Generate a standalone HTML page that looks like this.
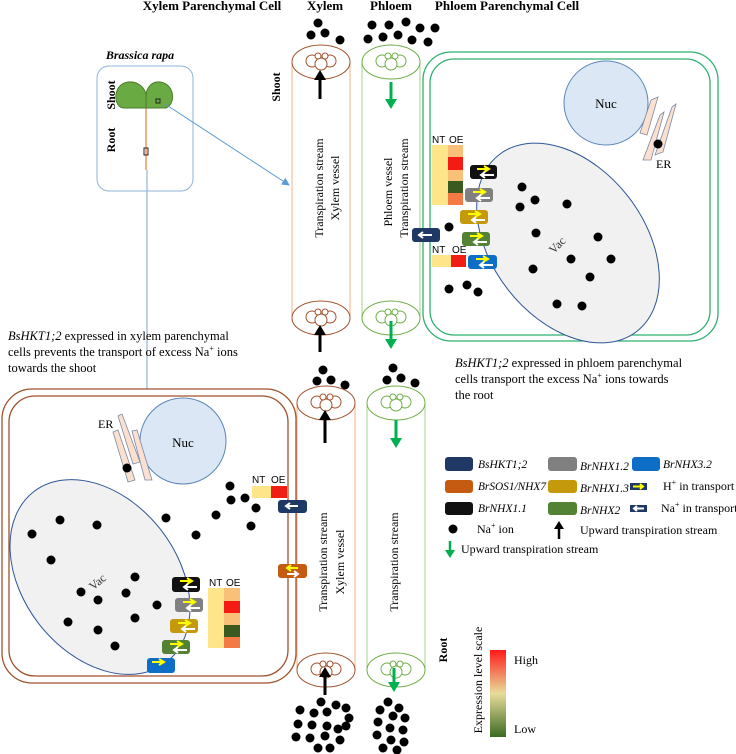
<!DOCTYPE html>
<html><head><meta charset="utf-8"><style>
html,body{margin:0;padding:0;background:#fff;}
svg{display:block;font-family:"Liberation Serif",serif;}
.s{font-family:"Liberation Sans",sans-serif;}
</style></head><body>
<svg width="736" height="754" viewBox="0 0 736 754" xmlns="http://www.w3.org/2000/svg">
<defs>
<marker id="bh" markerWidth="8" markerHeight="8" refX="7" refY="4" orient="auto" markerUnits="userSpaceOnUse"><path d="M0,0 L8,4 L0,8 z" fill="#5b9bd5"/></marker>
<linearGradient id="gr" x1="0" y1="0" x2="0" y2="1"><stop offset="0" stop-color="#ff1a1a"/><stop offset="0.5" stop-color="#e8dc9a"/><stop offset="1" stop-color="#3c6a22"/></linearGradient>
<g id="xe"><ellipse cx="0" cy="0" rx="29" ry="17" fill="#fff" stroke="#a0522d" stroke-width="1"/>
<circle cx="-9" cy="-1" r="6" fill="none" stroke="#a0522d"/><circle cx="9" cy="-1" r="6" fill="none" stroke="#a0522d"/><circle cx="0" cy="2" r="6" fill="#fff" stroke="#a0522d"/><circle cx="-3" cy="-6" r="3" fill="#fff" stroke="#a0522d"/><circle cx="4" cy="-6" r="3" fill="#fff" stroke="#a0522d"/></g>
<g id="pe"><ellipse cx="0" cy="0" rx="29" ry="17" fill="#fff" stroke="#70ad47" stroke-width="1"/>
<circle cx="-9" cy="-1" r="6" fill="none" stroke="#70ad47"/><circle cx="9" cy="-1" r="6" fill="none" stroke="#70ad47"/><circle cx="0" cy="2" r="6" fill="#fff" stroke="#70ad47"/><circle cx="-3" cy="-6" r="3" fill="#fff" stroke="#70ad47"/><circle cx="4" cy="-6" r="3" fill="#fff" stroke="#70ad47"/></g>
<g id="ar"><path d="M5,3 L17,3 M12,0 L17,3 L12,6" stroke="#ffff00" stroke-width="2" fill="none"/><path d="M22,9 L9,9 M13,6 L9,9 L13,12" stroke="#fff" stroke-width="2" fill="none"/></g>
</defs>

<g font-weight="bold" font-size="13" text-anchor="middle">
<text x="212" y="10">Xylem Parenchymal Cell</text>
<text x="325" y="10">Xylem</text>
<text x="391" y="10">Phloem</text>
<text x="507" y="10">Phloem Parenchymal Cell</text>
</g>

<text x="140" y="59" font-size="12" font-style="italic" font-weight="bold" text-anchor="middle">Brassica rapa</text>
<rect x="97" y="66" width="96" height="125" rx="12" fill="#fff" stroke="#8fb4d9"/>
<text transform="translate(115,95) rotate(-90)" font-size="12" font-weight="bold" text-anchor="middle">Shoot</text>
<text transform="translate(115,140) rotate(-90)" font-size="12" font-weight="bold" text-anchor="middle">Root</text>
<line x1="146" y1="107" x2="146" y2="170" stroke="#f4b183" stroke-width="2"/>
<path d="M146,108 L124,108 C113,108 112,84 128,82 C140,81 146,90 146,96 Z" fill="#6aaa42" stroke="#4d7c2e"/>
<path d="M146,108 L166,108 C176,104 175,84 160,82 C150,81 146,90 146,96 Z" fill="#6aaa42" stroke="#4d7c2e"/>
<rect x="156" y="99" width="4" height="4" fill="none" stroke="#222"/>
<rect x="144" y="148" width="4" height="7" fill="none" stroke="#222"/>
<line x1="165" y1="104" x2="289" y2="185" stroke="#5b9bd5" marker-end="url(#bh)"/>
<line x1="147" y1="170" x2="147" y2="468" stroke="#8fb4d9" stroke-width="1.2" marker-end="url(#bh)"/>

<line x1="292" y1="62" x2="292" y2="318" stroke="#f4b183"/><line x1="350" y1="62" x2="350" y2="318" stroke="#f4b183"/>
<use href="#xe" x="321" y="318"/><use href="#xe" x="321" y="62"/>
<line x1="362" y1="62" x2="362" y2="318" stroke="#a9d18e"/><line x1="420" y1="62" x2="420" y2="318" stroke="#a9d18e"/>
<use href="#pe" x="391" y="318"/><use href="#pe" x="391" y="62"/>
<text transform="translate(280,87) rotate(-90)" font-size="12" font-weight="bold" text-anchor="middle">Shoot</text>
<g font-size="12" text-anchor="middle">
<text transform="translate(323,188) rotate(-90)">Transpiration stream</text>
<text transform="translate(339,188) rotate(-90)">Xylem vessel</text>
<text transform="translate(392,192) rotate(-90)">Phloem vessel</text>
<text transform="translate(408,188) rotate(-90)">Transpiration stream</text>
</g>
<line x1="320" y1="99" x2="320" y2="78" stroke="#000" stroke-width="3"/><path d="M314,80 L320,70 L326,80Z"/>
<line x1="391" y1="82" x2="391" y2="100" stroke="#00b050" stroke-width="3"/><path d="M385,99 L391,109 L397,99Z" fill="#00b050"/>
<line x1="320" y1="352" x2="320" y2="333" stroke="#000" stroke-width="3"/><path d="M314,335 L320,325 L326,335Z"/>
<line x1="391" y1="321" x2="391" y2="340" stroke="#00b050" stroke-width="3"/><path d="M385,339 L391,349 L397,339Z" fill="#00b050"/>
<g fill="#000">
<circle cx="318" cy="23" r="4.5"/><circle cx="311" cy="35" r="4.5"/><circle cx="325" cy="33" r="4.5"/><circle cx="340" cy="40" r="4.5"/>
<circle cx="372" cy="25" r="4.5"/><circle cx="389" cy="25" r="4.5"/><circle cx="406" cy="22" r="4.5"/><circle cx="420" cy="28" r="4.5"/><circle cx="435" cy="28" r="4.5"/>
<circle cx="368" cy="39" r="4.5"/><circle cx="383" cy="37" r="4.5"/><circle cx="398" cy="35" r="4.5"/><circle cx="412" cy="40" r="4.5"/><circle cx="428" cy="42" r="4.5"/>
<circle cx="323" cy="370" r="4.5"/><circle cx="317" cy="381" r="4.5"/><circle cx="331" cy="380" r="4.5"/><circle cx="345" cy="385" r="4.5"/>
<circle cx="393" cy="368" r="4.5"/><circle cx="387" cy="380" r="4.5"/><circle cx="401" cy="378" r="4.5"/><circle cx="415" cy="383" r="4.5"/>
</g>

<rect x="423" y="52" width="295" height="289" rx="28" fill="#fff" stroke="#2fb070" stroke-width="1.3"/>
<rect x="430" y="59" width="280" height="276" rx="24" fill="#fff" stroke="#2fb070" stroke-width="1.3"/>
<circle cx="606" cy="103" r="42" fill="#dbe7f4" stroke="#5b86b8"/>
<text x="606" y="108" font-size="13" text-anchor="middle">Nuc</text>
<g fill="#fbe0d0" stroke="#7a8aa6" stroke-width="0.8">
<path d="M640,133 L651,100 L658,97 L647,135 Z"/><path d="M643,160 L660,115 L664,112 L651,160 Z"/><path d="M655,155 L672,107 L676,104 L663,152 Z"/>
</g>
<circle cx="658" cy="144" r="4.5"/>
<text x="656" y="168" font-size="12">ER</text>
<ellipse cx="568" cy="243" rx="76" ry="112" transform="rotate(-38 568 243)" fill="#f1f1f1" stroke="#2f5597"/>
<text transform="translate(560,248) rotate(-45)" font-size="12" fill="#333" text-anchor="middle">Vac</text>
<g fill="#000">
<circle cx="522" cy="187" r="4.5"/><circle cx="535" cy="200" r="4.5"/><circle cx="520" cy="207" r="4.5"/><circle cx="567" cy="204" r="4.5"/>
<circle cx="536" cy="233" r="4.5"/><circle cx="598" cy="237" r="4.5"/><circle cx="571" cy="259" r="4.5"/><circle cx="611" cy="259" r="4.5"/>
<circle cx="533" cy="269" r="4.5"/><circle cx="590" cy="277" r="4.5"/><circle cx="557" cy="304" r="4.5"/><circle cx="582" cy="306" r="4.5"/>
<circle cx="449" cy="227" r="4.5"/><circle cx="449" cy="289" r="4.5"/><circle cx="467" cy="285" r="4.5"/><circle cx="478" cy="292" r="4.5"/>
</g>
<g class="s" font-size="10"><text x="432" y="143">NT</text><text x="449" y="143">OE</text><text x="432" y="253">NT</text><text x="452" y="253">OE</text></g>
<rect x="432" y="145" width="16" height="60" fill="#ffe58a"/>
<rect x="448" y="145" width="15" height="12" fill="#f9c07a"/><rect x="448" y="157" width="15" height="13" fill="#f41b14"/><rect x="448" y="170" width="15" height="11" fill="#f9c07a"/><rect x="448" y="181" width="15" height="12" fill="#3a5a20"/><rect x="448" y="193" width="15" height="12" fill="#f47a45"/>
<rect x="432" y="255" width="19" height="12" fill="#ffe58a"/><rect x="451" y="255" width="15" height="12" fill="#f01e14"/>
<rect x="470" y="165" width="27" height="14" rx="3" fill="#111"/><use href="#ar" x="472" y="166"/>
<rect x="465" y="188" width="28" height="14" rx="3" fill="#808080"/><use href="#ar" x="468" y="189"/>
<rect x="460" y="210" width="28" height="14" rx="3" fill="#c49a0c"/><use href="#ar" x="463" y="211"/>
<rect x="462" y="232" width="28" height="14" rx="3" fill="#548235"/><use href="#ar" x="465" y="233"/>
<rect x="468" y="255" width="29" height="14" rx="3" fill="#0e6ec7"/><use href="#ar" x="471" y="256"/>
<rect x="412" y="228" width="28" height="14" rx="3" fill="#203864"/><path d="M432,235 L419,235 M423,232 L419,235 L423,238" stroke="#fff" stroke-width="2" fill="none"/>
<g font-size="12.5"><text x="455" y="367"><tspan font-style="italic">BsHKT1;2</tspan> expressed in phloem parenchymal</text>
<text x="455" y="383">cells transport the excess Na<tspan font-size="8" dy="-5">+</tspan><tspan dy="5"> ions towards</tspan></text>
<text x="455" y="399">the root</text></g>
<g font-size="12.5"><text x="8" y="340"><tspan font-style="italic">BsHKT1;2</tspan> expressed in xylem parenchymal</text>
<text x="8" y="356">cells prevents the transport of excess Na<tspan font-size="8" dy="-5">+</tspan><tspan dy="5"> ions</tspan></text>
<text x="8" y="372">towards the shoot</text></g>

<line x1="297" y1="403" x2="297" y2="670" stroke="#f4b183"/><line x1="355" y1="403" x2="355" y2="670" stroke="#f4b183"/>
<use href="#xe" x="326" y="670"/><use href="#xe" x="326" y="403"/>
<line x1="367" y1="403" x2="367" y2="670" stroke="#a9d18e"/><line x1="425" y1="403" x2="425" y2="670" stroke="#a9d18e"/>
<use href="#pe" x="396" y="670"/><use href="#pe" x="396" y="403"/>
<g font-size="12" text-anchor="middle">
<text transform="translate(327,562) rotate(-90)">Transpiration stream</text>
<text transform="translate(344,562) rotate(-90)">Xylem vessel</text>
<text transform="translate(398,562) rotate(-90)">Transpiration stream</text>
</g>
<line x1="325" y1="443" x2="325" y2="418" stroke="#000" stroke-width="3"/><path d="M319,420 L325,410 L331,420Z"/>
<line x1="396" y1="420" x2="396" y2="440" stroke="#00b050" stroke-width="3"/><path d="M390,438 L396,448 L402,438Z" fill="#00b050"/>
<line x1="325" y1="695" x2="325" y2="675" stroke="#000" stroke-width="3"/><path d="M319,677 L325,667 L331,677Z"/>
<line x1="394" y1="668" x2="394" y2="684" stroke="#00b050" stroke-width="3"/><path d="M388,682 L394,692 L400,682Z" fill="#00b050"/>
<g fill="#000">
<circle cx="321" cy="702" r="4.5"/><circle cx="336" cy="705" r="4.5"/><circle cx="346" cy="708" r="4.5"/><circle cx="300" cy="710" r="4.5"/><circle cx="314" cy="713" r="4.5"/><circle cx="327" cy="712" r="4.5"/><circle cx="349" cy="718" r="4.5"/>
<circle cx="298" cy="724" r="4.5"/><circle cx="312" cy="725" r="4.5"/><circle cx="327" cy="726" r="4.5"/><circle cx="338" cy="729" r="4.5"/><circle cx="346" cy="726" r="4.5"/>
<circle cx="296" cy="737" r="4.5"/><circle cx="310" cy="738" r="4.5"/><circle cx="325" cy="736" r="4.5"/><circle cx="340" cy="740" r="4.5"/><circle cx="318" cy="748" r="4.5"/><circle cx="330" cy="748" r="4.5"/>
<circle cx="388" cy="702" r="4.5"/><circle cx="399" cy="708" r="4.5"/><circle cx="380" cy="710" r="4.5"/><circle cx="393" cy="716" r="4.5"/><circle cx="405" cy="718" r="4.5"/><circle cx="378" cy="722" r="4.5"/>
<circle cx="390" cy="728" r="4.5"/><circle cx="403" cy="730" r="4.5"/><circle cx="377" cy="735" r="4.5"/><circle cx="391" cy="740" r="4.5"/><circle cx="404" cy="742" r="4.5"/><circle cx="383" cy="748" r="4.5"/><circle cx="397" cy="750" r="4.5"/>
</g>

<rect x="2" y="389" width="294" height="294" rx="30" fill="#fff" stroke="#a0522d" stroke-width="1.3"/>
<rect x="9" y="396" width="279" height="280" rx="26" fill="#fff" stroke="#a0522d" stroke-width="1.3"/>
<circle cx="183" cy="441" r="43" fill="#dbe7f4" stroke="#5b86b8"/>
<text x="183" y="447" font-size="13" text-anchor="middle">Nuc</text>
<g fill="#fbe0d0" stroke="#7a8aa6" stroke-width="0.8">
<path d="M118,416 L122,414 L140,462 L133,464 Z"/><path d="M113,432 L118,430 L135,480 L128,482 Z"/><path d="M132,431 L137,430 L152,480 L145,480 Z"/>
</g>
<circle cx="127" cy="468" r="4.5"/>
<text x="98" y="428" font-size="12">ER</text>
<ellipse cx="100" cy="577" rx="77" ry="108" transform="rotate(-38 100 577)" fill="#f1f1f1" stroke="#2f5597"/>
<text transform="translate(100,585) rotate(-40)" font-size="12" fill="#333" text-anchor="middle">Vac</text>
<g fill="#000">
<circle cx="60" cy="520" r="4.5"/><circle cx="97" cy="525" r="4.5"/><circle cx="32" cy="534" r="4.5"/><circle cx="51" cy="560" r="4.5"/>
<circle cx="135" cy="577" r="4.5"/><circle cx="81" cy="592" r="4.5"/><circle cx="126" cy="593" r="4.5"/><circle cx="98" cy="600" r="4.5"/><circle cx="157" cy="605" r="4.5"/>
<circle cx="68" cy="622" r="4.5"/><circle cx="135" cy="618" r="4.5"/><circle cx="98" cy="630" r="4.5"/><circle cx="115" cy="646" r="4.5"/>
<circle cx="166" cy="518" r="4.5"/><circle cx="196" cy="535" r="4.5"/><circle cx="216" cy="515" r="4.5"/><circle cx="230" cy="486" r="4.5"/><circle cx="231" cy="500" r="4.5"/><circle cx="245" cy="498" r="4.5"/><circle cx="256" cy="508" r="4.5"/><circle cx="251" cy="526" r="4.5"/>
</g>
<g class="s" font-size="10"><text x="252" y="483">NT</text><text x="271" y="483">OE</text><text x="209" y="586">NT</text><text x="226" y="586">OE</text></g>
<rect x="252" y="486" width="19" height="12" fill="#ffe58a"/><rect x="271" y="486" width="16" height="12" fill="#f01e14"/>
<rect x="208" y="588" width="16" height="60" fill="#ffe58a"/>
<rect x="224" y="588" width="16" height="13" fill="#f9c07a"/><rect x="224" y="601" width="16" height="12" fill="#f41b14"/><rect x="224" y="613" width="16" height="12" fill="#f9c07a"/><rect x="224" y="625" width="16" height="12" fill="#3a5a20"/><rect x="224" y="637" width="16" height="11" fill="#f47a45"/>
<rect x="172" y="577" width="28" height="15" rx="3" fill="#111"/><use href="#ar" x="175" y="578"/>
<rect x="175" y="598" width="28" height="14" rx="3" fill="#808080"/><use href="#ar" x="178" y="599"/>
<rect x="170" y="619" width="28" height="14" rx="3" fill="#c49a0c"/><use href="#ar" x="173" y="620"/>
<rect x="162" y="640" width="28" height="14" rx="3" fill="#548235"/><use href="#ar" x="165" y="641"/>
<rect x="147" y="658" width="28" height="15" rx="3" fill="#0e6ec7"/><path d="M152,662 L164,662 M159,659 L164,662 L159,665" stroke="#ffff00" stroke-width="2" fill="none"/>
<rect x="278" y="500" width="29" height="13" rx="3" fill="#203864"/><path d="M298,506 L286,506 M290,503 L286,506 L290,509" stroke="#fff" stroke-width="2" fill="none"/>
<rect x="278" y="564" width="29" height="14" rx="3" fill="#c55a11"/><path d="M298,568 L287,568 M291,565 L287,568 L291,571" stroke="#ffff00" stroke-width="2" fill="none"/><path d="M287,574 L298,574 M294,571 L298,574 L294,577" stroke="#fff" stroke-width="2" fill="none"/>

<g font-size="12">
<rect x="445" y="457" width="28" height="14" rx="3" fill="#203864"/><text x="478" y="468" font-style="italic" font-size="11.5">BsHKT1;2</text>
<rect x="548" y="457" width="29" height="14" rx="3" fill="#808080"/><text x="580" y="470" font-style="italic" font-size="11.5">BrNHX1.2</text>
<rect x="632" y="457" width="28" height="14" rx="3" fill="#0e6ec7"/><text x="663" y="468" font-style="italic" font-size="11.5">BrNHX3.2</text>
<rect x="445" y="480" width="28" height="13" rx="3" fill="#c55a11"/><text x="478" y="490" font-style="italic" font-size="11.5" textLength="68" lengthAdjust="spacingAndGlyphs">BrSOS1/NHX7</text>
<rect x="548" y="480" width="29" height="13" rx="3" fill="#c49a0c"/><text x="580" y="492" font-style="italic" font-size="11.5">BrNHX1.3</text>
<rect x="630" y="483" width="17" height="7" fill="#203864"/><path d="M633,486.5 L643,486.5 M640,484 L643,486.5 L640,489" stroke="#ffff00" stroke-width="2" fill="none"/>
<text x="663" y="490">H<tspan font-size="8" dy="-5">+</tspan><tspan dy="5"> in transport</tspan></text>
<rect x="445" y="502" width="28" height="13" rx="3" fill="#111"/><text x="478" y="512" font-style="italic" font-size="11.5">BrNHX1.1</text>
<rect x="548" y="502" width="29" height="13" rx="3" fill="#548235"/><text x="580" y="514" font-style="italic" font-size="11.5">BrNHX2</text>
<rect x="630" y="505" width="17" height="7" fill="#203864"/><path d="M644,508.5 L634,508.5 M637,506 L634,508.5 L637,511" stroke="#fff" stroke-width="2" fill="none"/>
<text x="661" y="512">Na<tspan font-size="8" dy="-5">+</tspan><tspan dy="5"> in transport</tspan></text>
<circle cx="453" cy="529" r="4.5"/><text x="477" y="533">Na<tspan font-size="8" dy="-5">+</tspan><tspan dy="5"> ion</tspan></text>
<line x1="559" y1="539" x2="559" y2="528" stroke="#000" stroke-width="2.5"/><path d="M554,529 L559,521 L564,529Z"/>
<text x="580" y="534">Upward transpiration stream</text>
<line x1="450" y1="541" x2="450" y2="552" stroke="#00b050" stroke-width="2.5"/><path d="M445,550 L450,558 L455,550Z" fill="#00b050"/>
<text x="461" y="553">Upward transpiration stream</text>
</g>
<text transform="translate(447,650) rotate(-90)" font-size="12" font-weight="bold" text-anchor="middle">Root</text>
<text transform="translate(482,680) rotate(-90)" font-size="12" text-anchor="middle">Expression level scale</text>
<rect x="490" y="650" width="16" height="87" fill="url(#gr)"/>
<text x="514" y="664" font-size="12">High</text>
<text x="514" y="733" font-size="12">Low</text>
</svg>
</body></html>
